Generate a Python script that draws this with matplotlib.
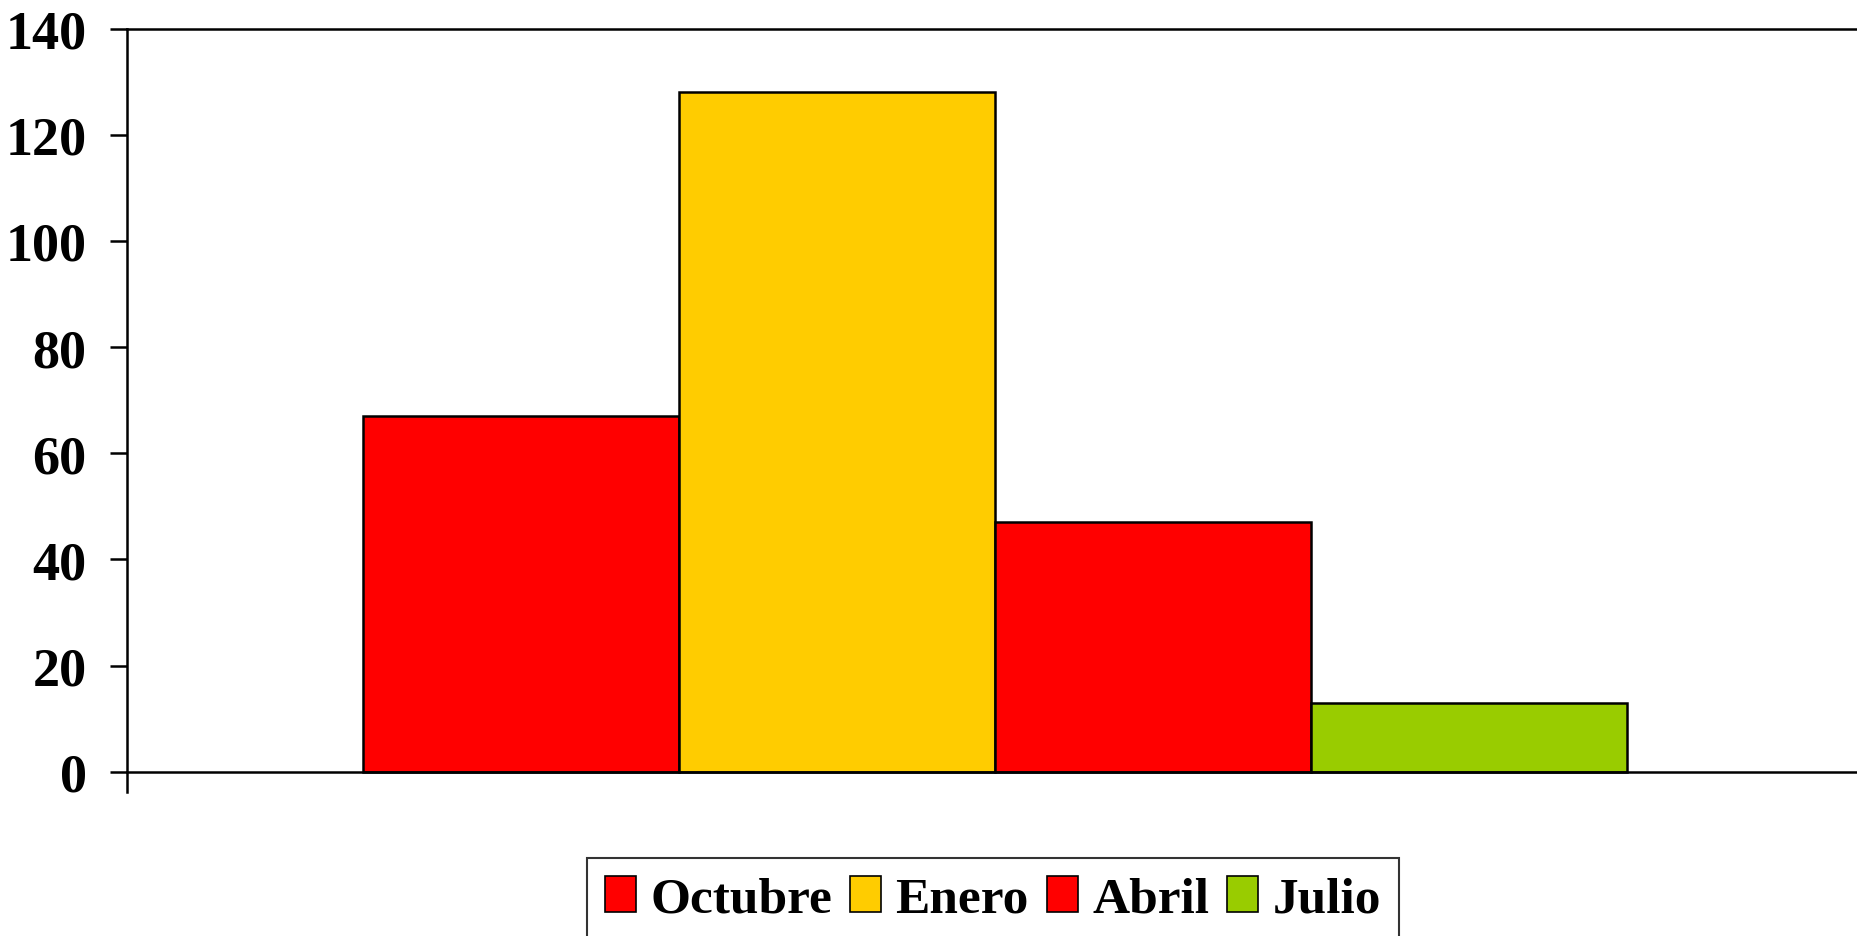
import numpy as np
from matplotlib import pyplot as plt
from matplotlib.patches import Patch

series = ["Octubre", "Enero", "Abril", "Julio"]
values = [67, 128, 47, 13]
colors = ["#FF0000", "#FFCC00", "#FF0000", "#99CC00"]
y_ticks = [0, 20, 40, 60, 80, 100, 120, 140]

plt.rcParams["font.family"] = ["Liberation Serif", "DejaVu Serif"]
plt.rcParams["font.weight"] = "bold"

fig = plt.figure(figsize=(18.58, 9.37), dpi=100)
ax = fig.add_axes([127 / 1858, 1 - 793 / 937, 1 - 127 / 1858, (793 - 29.5) / 937])

x = np.arange(len(series)) - (len(series) - 1) / 2
ax.bar(x, values, width=1.0, color=colors, edgecolor="black", linewidth=1.8)

ax.set_xlim(-2.745, 2.73)
ax.set_ylim(-3.8, 140)
ax.set_yticks(y_ticks)
ax.set_xticks([])
ax.tick_params(axis="y", length=12, width=1.8, pad=17, labelsize=39)
for lbl in ax.get_yticklabels():
    lbl.set_fontweight("bold")

ax.spines["right"].set_visible(False)
ax.spines["bottom"].set_position(("data", 0))
for s in ["left", "top", "bottom"]:
    ax.spines[s].set_linewidth(1.8)

handles = [Patch(facecolor=c, edgecolor="black", linewidth=1.2) for c in colors]
leg = fig.legend(handles, series, loc="upper center", ncol=4,
                 bbox_to_anchor=(993 / 1858, 1 - 859 / 937), bbox_transform=fig.transFigure,
                 borderaxespad=0, frameon=True, fancybox=False, edgecolor="black",
                 handlelength=0.6, handleheight=0.7, handletextpad=0.28, columnspacing=0.35,
                 borderpad=0.35, prop={"family": "Liberation Serif", "weight": "bold", "size": 37})
leg.get_frame().set_linewidth(1.5)

fig.savefig("out.png", dpi=100)
